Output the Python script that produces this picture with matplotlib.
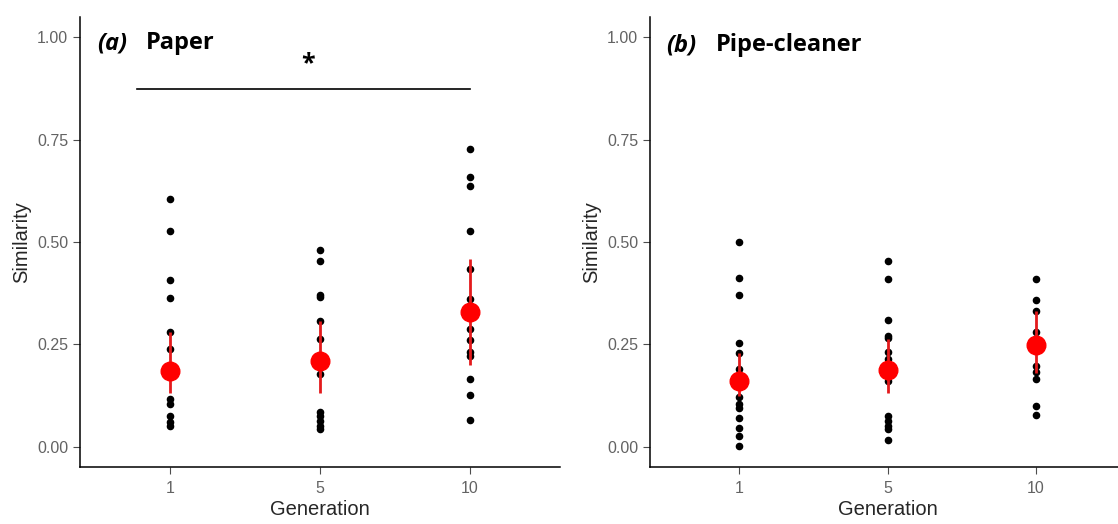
import matplotlib
matplotlib.use("Agg")
import matplotlib.pyplot as plt
import numpy as np

generations = ["1", "5", "10"]

# paper condition (raw similarity per chain)
paper_g1 = [0.604, 0.526, 0.408, 0.364, 0.279, 0.238, 0.115, 0.103, 0.074, 0.059, 0.050]
paper_g5 = [0.481, 0.454, 0.371, 0.365, 0.307, 0.264, 0.178, 0.084, 0.074, 0.062, 0.051, 0.042]
paper_g10 = [0.728, 0.659, 0.637, 0.528, 0.434, 0.360, 0.287, 0.261, 0.230, 0.221, 0.164, 0.125, 0.066]
paper_mean = [0.185, 0.209, 0.329]
paper_lo = [0.130, 0.132, 0.200]
paper_hi = [0.280, 0.307, 0.458]

# pipe-cleaner condition
pipe_g1 = [0.501, 0.412, 0.370, 0.252, 0.228, 0.190, 0.120, 0.103, 0.095, 0.070, 0.046, 0.025, 0.001]
pipe_g5 = [0.454, 0.409, 0.310, 0.270, 0.265, 0.230, 0.213, 0.160, 0.074, 0.062, 0.050, 0.042, 0.015]
pipe_g10 = [0.409, 0.359, 0.332, 0.279, 0.197, 0.181, 0.166, 0.099, 0.076]
pipe_mean = [0.159, 0.186, 0.248]
pipe_lo = [0.123, 0.131, 0.180]
pipe_hi = [0.228, 0.262, 0.332]

plt.rcParams['font.family'] = ['Liberation Sans', 'DejaVu Sans']

fig = plt.figure(figsize=(11.18, 5.24), dpi=100)
W, H = 1118, 524
ax1 = fig.add_axes([80 / W, 1 - 467 / H, 480 / W, 450 / H])
ax2 = fig.add_axes([650 / W, 1 - 467 / H, 475 / W, 450 / H])


def panel(ax, groups, mean, lo, hi, tag, name, ty):
    for i, vals in enumerate(groups):
        ax.scatter(np.full(len(vals), i + 1), vals, s=20, color="black", zorder=2)
    x = np.arange(1, 4)
    ax.vlines(x, lo, hi, color="#e31a1c", lw=2, zorder=3)
    ax.scatter(x, mean, s=180, color="#ff0000", zorder=4)
    ax.set_xlim(0.4, 3.6)
    ax.set_ylim(-0.05, 1.05)
    ax.set_xticks(x)
    ax.set_xticklabels(generations)
    ax.set_yticks([0, 0.25, 0.5, 0.75, 1.0])
    ax.set_yticklabels(["0.00", "0.25", "0.50", "0.75", "1.00"])
    ax.tick_params(colors="#4d4d4d", labelsize=11.5, length=5, width=0.8)
    ax.tick_params(labelcolor="#636363")
    ax.tick_params(axis="x", pad=5)
    for s in ["top", "right"]:
        ax.spines[s].set_visible(False)
    ax.spines["left"].set_linewidth(1.1)
    ax.spines["bottom"].set_linewidth(1.1)
    ax.set_xlabel("Generation", fontsize=14.5, color="#262626", labelpad=3)
    ax.set_ylabel("Similarity", fontsize=14.5, color="#262626", labelpad=4)
    ax.text(0.035, ty, "(" + tag + ")", transform=ax.get_yaxis_transform(),
            fontsize=17, fontweight="bold", fontstyle="italic",
            family=["Open Sans", "DejaVu Sans"], va="center", ha="left")
    ax.text(0.138, ty, name, transform=ax.get_yaxis_transform(),
            fontsize=17, fontweight="bold",
            family=["Open Sans", "DejaVu Sans"], va="center", ha="left")


panel(ax1, [paper_g1, paper_g5, paper_g10], paper_mean, paper_lo, paper_hi, "a", "Paper", 0.986)
panel(ax2, [pipe_g1, pipe_g5, pipe_g10], pipe_mean, pipe_lo, pipe_hi, "b", "Pipe-cleaner", 0.981)

# significance bar between generation 1 and 10 (paper)
ax1.plot([0.78, 3.0], [0.875, 0.875], color="black", lw=1.2)
ax1.text(1.92, 0.935, "*", fontsize=18, fontweight="bold", ha="center", va="center",
         family=["Open Sans", "DejaVu Sans"])

fig.savefig("out.png", dpi=100)
